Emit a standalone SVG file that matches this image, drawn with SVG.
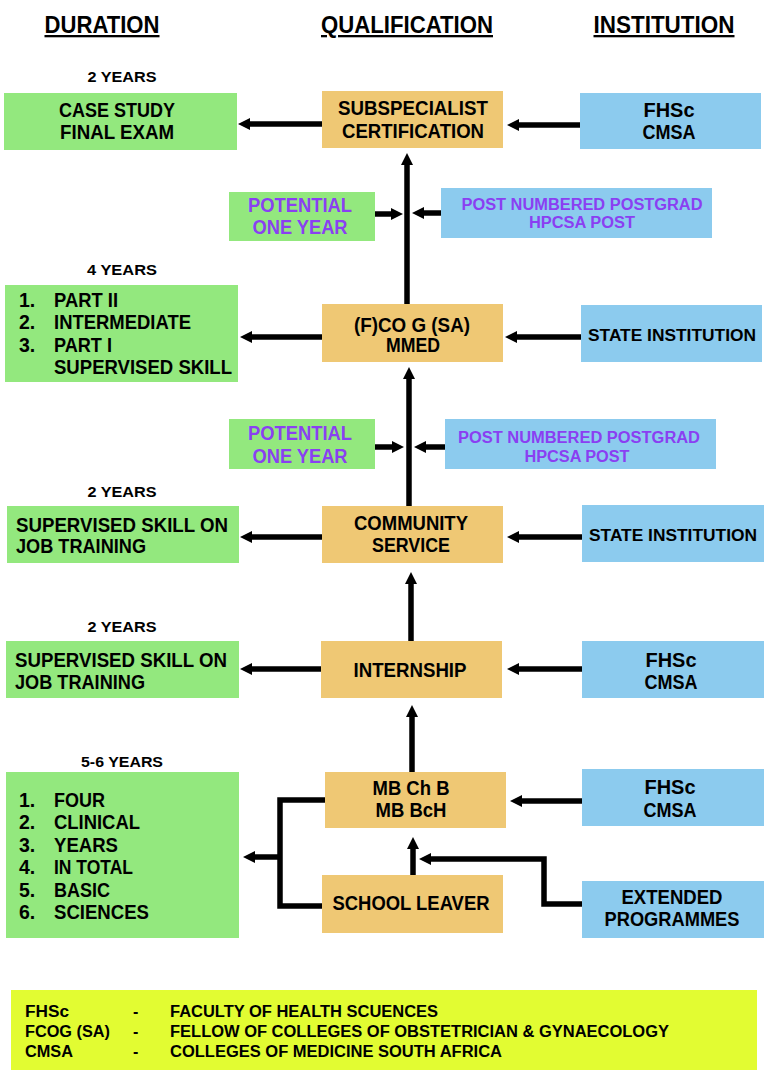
<svg xmlns="http://www.w3.org/2000/svg" width="769" height="1082" viewBox="0 0 769 1082">
<style>
text{font-family:"Liberation Sans",Arial,sans-serif;font-weight:bold;fill:#000}
.hd{font-size:23px;text-anchor:middle;text-decoration:underline}
.yr{font-size:15px;text-anchor:middle}
.bx{font-size:19.5px;text-anchor:middle}
.st{font-size:17px;text-anchor:middle}
.lt{font-size:19.5px}
.pu{fill:#8a3ff2;text-anchor:middle}
.p1{font-size:20px}
.p2{font-size:16px}
.lg{font-size:16px}
.g{fill:#93e87e}
.o{fill:#efc874}
.b{fill:#8ccbee}
.ln{stroke:#000;stroke-width:5.5;fill:none}
.ar{marker-end:url(#ah)}
</style>
<defs>
<marker id="ah" viewBox="0 0 12 12" refX="1" refY="6" markerWidth="12" markerHeight="12" markerUnits="userSpaceOnUse" orient="auto">
<path d="M0,0 L12,6 L0,12 z" fill="#000"/>
</marker>
</defs>
<rect width="769" height="1082" fill="#fff"/>

<g id="headers">
<text class="hd" x="102" y="33" textLength="115" lengthAdjust="spacingAndGlyphs">DURATION</text>
<text class="hd" x="407" y="33" textLength="172" lengthAdjust="spacingAndGlyphs">QUALIFICATION</text>
<text class="hd" x="664" y="33" textLength="141" lengthAdjust="spacingAndGlyphs">INSTITUTION</text>
</g>

<g id="connectors">
<line class="ln ar" x1="322" y1="124" x2="249" y2="124"/>
<line class="ln ar" x1="580" y1="125" x2="518" y2="125"/>
<line class="ln ar" x1="407" y1="304" x2="407" y2="164"/>
<line class="ln ar" x1="375" y1="214" x2="392" y2="214"/>
<line class="ln ar" x1="441" y1="213" x2="423" y2="213"/>
<line class="ln ar" x1="322" y1="337" x2="251" y2="337"/>
<line class="ln ar" x1="581" y1="337" x2="516" y2="337"/>
<line class="ln ar" x1="409" y1="506" x2="409" y2="378"/>
<line class="ln ar" x1="375" y1="447" x2="393" y2="447"/>
<line class="ln ar" x1="445" y1="447" x2="425" y2="447"/>
<line class="ln ar" x1="322" y1="537" x2="251" y2="537"/>
<line class="ln ar" x1="582" y1="537" x2="518" y2="537"/>
<line class="ln ar" x1="411" y1="641" x2="411" y2="583"/>
<line class="ln ar" x1="321" y1="669" x2="251" y2="669"/>
<line class="ln ar" x1="582" y1="669" x2="518" y2="669"/>
<line class="ln ar" x1="412" y1="772" x2="412" y2="716"/>
<line class="ln ar" x1="582" y1="801" x2="521" y2="801"/>
<line class="ln ar" x1="413" y1="876" x2="413" y2="848"/>
<polyline class="ln ar" points="582,904 544,904 544,859 430,859"/>
<polyline class="ln" points="325,800 280,800 280,906 322,906"/>
<line class="ln ar" x1="280" y1="857" x2="254" y2="857"/>
</g>

<g id="row1">
<text class="yr" x="122" y="82" textLength="69" lengthAdjust="spacingAndGlyphs">2 YEARS</text>
<g id="n-casestudy"><rect class="g" x="4" y="93" width="233" height="57"/>
<text class="bx" x="117" y="117" textLength="116" lengthAdjust="spacingAndGlyphs">CASE STUDY</text><text class="bx" x="117" y="139" textLength="114" lengthAdjust="spacingAndGlyphs">FINAL EXAM</text></g>
<g id="n-subspec"><rect class="o" x="322" y="91" width="181" height="57"/>
<text class="bx" x="413" y="115" textLength="150" lengthAdjust="spacingAndGlyphs">SUBSPECIALIST</text><text class="bx" x="413" y="138" textLength="142" lengthAdjust="spacingAndGlyphs">CERTIFICATION</text></g>
<g id="n-inst1"><rect class="b" x="580" y="93" width="181" height="56"/>
<text class="bx" x="669" y="117" textLength="51" lengthAdjust="spacingAndGlyphs">FHSc</text><text class="bx" x="669" y="139" textLength="53" lengthAdjust="spacingAndGlyphs">CMSA</text></g>
</g>

<g id="pot1">
<g id="n-pot1"><rect class="g" x="229" y="192" width="146" height="49"/>
<text class="pu p1" x="300" y="212" textLength="104" lengthAdjust="spacingAndGlyphs">POTENTIAL</text><text class="pu p1" x="300" y="234" textLength="95" lengthAdjust="spacingAndGlyphs">ONE YEAR</text></g>
<g id="n-post1"><rect class="b" x="441" y="188" width="271" height="50"/>
<text class="pu p2" x="582" y="210" textLength="241" lengthAdjust="spacingAndGlyphs">POST NUMBERED POSTGRAD</text><text class="pu p2" x="582" y="228" textLength="106" lengthAdjust="spacingAndGlyphs">HPCSA POST</text></g>
</g>

<g id="row2">
<text class="yr" x="122" y="275" textLength="70" lengthAdjust="spacingAndGlyphs">4 YEARS</text>
<g id="n-parts"><rect class="g" x="5" y="285" width="233" height="97"/>
<text class="lt" x="19" y="307">1.</text><text class="lt" x="54" y="307" textLength="64" lengthAdjust="spacingAndGlyphs">PART II</text>
<text class="lt" x="19" y="329">2.</text><text class="lt" x="54" y="329" textLength="137" lengthAdjust="spacingAndGlyphs">INTERMEDIATE</text>
<text class="lt" x="19" y="352">3.</text><text class="lt" x="54" y="352" textLength="58" lengthAdjust="spacingAndGlyphs">PART I</text>
<text class="lt" x="54" y="374" textLength="178" lengthAdjust="spacingAndGlyphs">SUPERVISED SKILL</text></g>
<g id="n-fcog"><rect class="o" x="322" y="304" width="181" height="58"/>
<text class="bx" x="412" y="332" textLength="116" lengthAdjust="spacingAndGlyphs">(F)CO G (SA)</text><text class="bx" x="413" y="352" textLength="54" lengthAdjust="spacingAndGlyphs">MMED</text></g>
<g id="n-state1"><rect class="b" x="581" y="305" width="181" height="57"/>
<text class="st" x="672" y="341" textLength="168" lengthAdjust="spacingAndGlyphs">STATE INSTITUTION</text></g>
</g>

<g id="pot2">
<g id="n-pot2"><rect class="g" x="229" y="419" width="146" height="50"/>
<text class="pu p1" x="300" y="440" textLength="104" lengthAdjust="spacingAndGlyphs">POTENTIAL</text><text class="pu p1" x="300" y="463" textLength="95" lengthAdjust="spacingAndGlyphs">ONE YEAR</text></g>
<g id="n-post2"><rect class="b" x="445" y="419" width="271" height="50"/>
<text class="pu p2" x="579" y="443" textLength="242" lengthAdjust="spacingAndGlyphs">POST NUMBERED POSTGRAD</text><text class="pu p2" x="577" y="462" textLength="105" lengthAdjust="spacingAndGlyphs">HPCSA POST</text></g>
</g>

<g id="row3">
<text class="yr" x="122" y="497" textLength="69" lengthAdjust="spacingAndGlyphs">2 YEARS</text>
<g id="n-skill1"><rect class="g" x="7" y="506" width="232" height="57"/>
<text class="lt" x="16" y="532" textLength="212" lengthAdjust="spacingAndGlyphs">SUPERVISED SKILL ON</text><text class="lt" x="16" y="553" textLength="130" lengthAdjust="spacingAndGlyphs">JOB TRAINING</text></g>
<g id="n-community"><rect class="o" x="322" y="506" width="181" height="57"/>
<text class="bx" x="411" y="530" textLength="114" lengthAdjust="spacingAndGlyphs">COMMUNITY</text><text class="bx" x="411" y="552" textLength="78" lengthAdjust="spacingAndGlyphs">SERVICE</text></g>
<g id="n-state2"><rect class="b" x="582" y="505" width="182" height="57"/>
<text class="st" x="673" y="541" textLength="168" lengthAdjust="spacingAndGlyphs">STATE INSTITUTION</text></g>
</g>

<g id="row4">
<text class="yr" x="122" y="632" textLength="69" lengthAdjust="spacingAndGlyphs">2 YEARS</text>
<g id="n-skill2"><rect class="g" x="6" y="641" width="233" height="57"/>
<text class="lt" x="15" y="667" textLength="212" lengthAdjust="spacingAndGlyphs">SUPERVISED SKILL ON</text><text class="lt" x="15" y="689" textLength="130" lengthAdjust="spacingAndGlyphs">JOB TRAINING</text></g>
<g id="n-internship"><rect class="o" x="321" y="641" width="181" height="57"/>
<text class="bx" x="410" y="677" textLength="113" lengthAdjust="spacingAndGlyphs">INTERNSHIP</text></g>
<g id="n-inst4"><rect class="b" x="582" y="641" width="182" height="57"/>
<text class="bx" x="671" y="667" textLength="51" lengthAdjust="spacingAndGlyphs">FHSc</text><text class="bx" x="671" y="689" textLength="53" lengthAdjust="spacingAndGlyphs">CMSA</text></g>
</g>

<g id="row5">
<text class="yr" x="122" y="767" textLength="82" lengthAdjust="spacingAndGlyphs">5-6 YEARS</text>
<g id="n-basic"><rect class="g" x="6" y="772" width="233" height="166"/>
<text class="lt" x="19" y="807">1.</text><text class="lt" x="54" y="807" textLength="51" lengthAdjust="spacingAndGlyphs">FOUR</text>
<text class="lt" x="19" y="829">2.</text><text class="lt" x="54" y="829" textLength="86" lengthAdjust="spacingAndGlyphs">CLINICAL</text>
<text class="lt" x="19" y="852">3.</text><text class="lt" x="54" y="852" textLength="64" lengthAdjust="spacingAndGlyphs">YEARS</text>
<text class="lt" x="19" y="874">4.</text><text class="lt" x="54" y="874" textLength="79" lengthAdjust="spacingAndGlyphs">IN TOTAL</text>
<text class="lt" x="19" y="897">5.</text><text class="lt" x="54" y="897" textLength="56" lengthAdjust="spacingAndGlyphs">BASIC</text>
<text class="lt" x="19" y="919">6.</text><text class="lt" x="54" y="919" textLength="95" lengthAdjust="spacingAndGlyphs">SCIENCES</text></g>
<g id="n-mbchb"><rect class="o" x="325" y="772" width="181" height="56"/>
<text class="bx" x="411" y="795" textLength="77" lengthAdjust="spacingAndGlyphs">MB Ch B</text><text class="bx" x="411" y="817" textLength="71" lengthAdjust="spacingAndGlyphs">MB BcH</text></g>
<g id="n-inst5"><rect class="b" x="582" y="769" width="182" height="57"/>
<text class="bx" x="670" y="794" textLength="51" lengthAdjust="spacingAndGlyphs">FHSc</text><text class="bx" x="670" y="817" textLength="53" lengthAdjust="spacingAndGlyphs">CMSA</text></g>
<g id="n-school"><rect class="o" x="322" y="875" width="181" height="58"/>
<text class="bx" x="411" y="910" textLength="157" lengthAdjust="spacingAndGlyphs">SCHOOL LEAVER</text></g>
<g id="n-extended"><rect class="b" x="582" y="881" width="182" height="57"/>
<text class="bx" x="672" y="904" textLength="101" lengthAdjust="spacingAndGlyphs">EXTENDED</text><text class="bx" x="672" y="926" textLength="135" lengthAdjust="spacingAndGlyphs">PROGRAMMES</text></g>
</g>

<g id="legend">
<rect x="11" y="990" width="746" height="80" fill="#e2fc32"/>
<text class="lg" x="25" y="1017" textLength="44" lengthAdjust="spacingAndGlyphs">FHSc</text><text class="lg" x="133" y="1017">-</text><text class="lg" x="170" y="1017" textLength="268" lengthAdjust="spacingAndGlyphs">FACULTY OF HEALTH SCUENCES</text>
<text class="lg" x="25" y="1037" textLength="85" lengthAdjust="spacingAndGlyphs">FCOG (SA)</text><text class="lg" x="133" y="1037">-</text><text class="lg" x="170" y="1037" textLength="499" lengthAdjust="spacingAndGlyphs">FELLOW OF COLLEGES OF OBSTETRICIAN &amp; GYNAECOLOGY</text>
<text class="lg" x="25" y="1057" textLength="48" lengthAdjust="spacingAndGlyphs">CMSA</text><text class="lg" x="133" y="1057">-</text><text class="lg" x="170" y="1057" textLength="332" lengthAdjust="spacingAndGlyphs">COLLEGES OF MEDICINE SOUTH AFRICA</text>
</g>
</svg>
